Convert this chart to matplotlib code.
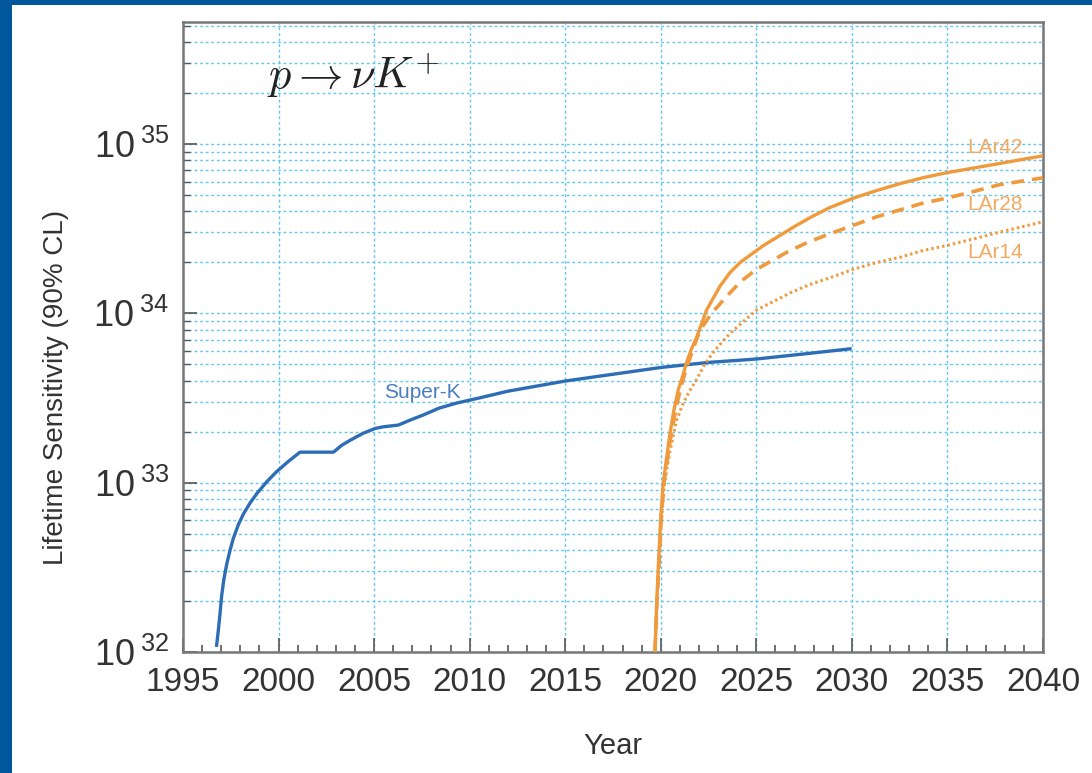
import matplotlib.pyplot as plt
import matplotlib.patches as mpatches
from matplotlib.ticker import FixedLocator, FixedFormatter, MultipleLocator, LogLocator
import numpy as np

plt.rcParams['font.family'] = ['Liberation Sans', 'DejaVu Sans']
plt.rcParams['mathtext.fontset'] = 'custom'
plt.rcParams['mathtext.rm'] = 'Liberation Sans'
plt.rcParams['mathtext.it'] = 'Liberation Sans:italic'

# Super-K sensitivity (year, log10 lifetime in years)
sk_year = [1996.76, 1996.85, 1996.94, 1997.02, 1997.14, 1997.29, 1997.46, 1997.63,
           1997.89, 1998.16, 1998.51, 1998.86, 1999.38, 1999.90, 2000.51, 2001.12,
           2002.87, 2003.3, 2003.74, 2004.4, 2005.05, 2005.5, 2006.27, 2006.9,
           2007.58, 2008.4, 2009.32, 2010.5, 2012.0, 2013.5, 2015.0, 2017.5,
           2020.0, 2022.5, 2025.0, 2027.5, 2029.9]
sk_log = [32.04, 32.13, 32.23, 32.33, 32.43, 32.52, 32.60, 32.67,
          32.75, 32.815, 32.88, 32.935, 33.005, 33.065, 33.125, 33.18,
          33.18, 33.22, 33.25, 33.29, 33.32, 33.33, 33.34, 33.37,
          33.40, 33.44, 33.47, 33.50, 33.54, 33.57, 33.60, 33.64,
          33.68, 33.71, 33.73, 33.76, 33.79]

# LAr 42 kton
lar42_year = [2019.70, 2019.79, 2019.87, 2020.0, 2020.13, 2020.31, 2020.48, 2020.69,
              2020.92, 2021.15, 2021.35, 2021.61, 2021.88, 2022.14, 2022.40, 2022.75,
              2023.10, 2023.62, 2024.15, 2024.76, 2025.37, 2026.24, 2027.11, 2027.98,
              2028.86, 2030.08, 2031.3, 2032.5, 2033.7, 2034.96, 2037.5, 2040.0]
lar42_log = [32.01, 32.30, 32.50, 32.80, 33.00, 33.15, 33.29, 33.43,
             33.55, 33.63, 33.71, 33.79, 33.86, 33.94, 34.02, 34.09,
             34.16, 34.24, 34.30, 34.35, 34.40, 34.46, 34.52, 34.575,
             34.625, 34.68, 34.725, 34.765, 34.80, 34.83, 34.88, 34.93]

# LAr 28 kton
lar28_year = [2019.70, 2019.80, 2019.90, 2020.03, 2020.17, 2020.36, 2020.55, 2020.78,
              2021.02, 2021.30, 2021.60, 2022.05, 2022.66, 2023.45, 2024.2, 2025.02,
              2025.8, 2026.59, 2027.7, 2028.86, 2030.08, 2031.3, 2032.5, 2033.7,
              2034.96, 2036.4, 2037.75, 2040.0]
lar28_log = [32.01, 32.30, 32.50, 32.80, 33.00, 33.15, 33.29, 33.43,
             33.55, 33.66, 33.76, 33.90, 34.00, 34.10, 34.19, 34.26,
             34.31, 34.36, 34.42, 34.47, 34.52, 34.57, 34.61, 34.65,
             34.68, 34.72, 34.76, 34.80]

# LAr 14 kton
lar14_year = [2019.70, 2019.80, 2019.90, 2020.05, 2020.20, 2020.45, 2020.83, 2021.18,
              2021.50, 2021.88, 2022.30, 2022.75, 2023.20, 2023.62, 2024.30, 2025.02,
              2025.90, 2026.76, 2027.80, 2028.86, 2030.08, 2031.3, 2032.5, 2033.7,
              2034.96, 2036.4, 2037.75, 2040.0]
lar14_log = [32.01, 32.30, 32.50, 32.80, 33.00, 33.17, 33.37, 33.47,
             33.54, 33.61, 33.70, 33.77, 33.83, 33.88, 33.95, 34.02,
             34.07, 34.12, 34.17, 34.21, 34.26, 34.30, 34.33, 34.37,
             34.40, 34.44, 34.48, 34.54]

decades = [32, 33, 34, 35]
year_ticks = list(range(1995, 2041, 5))

blue = '#2D6DB5'
orange = '#EF9A3C'
grid_c = '#62C6EE'

fig = plt.figure(figsize=(10.92, 7.73), dpi=100)
fig.patches.append(mpatches.Rectangle((0, 0), 12 / 1092, 1, transform=fig.transFigure,
                                      facecolor='#00579B', edgecolor='none', zorder=0))
fig.patches.append(mpatches.Rectangle((0, 1 - 5 / 773), 1, 5 / 773, transform=fig.transFigure,
                                      facecolor='#00579B', edgecolor='none', zorder=0))

ax = fig.add_axes([183 / 1092, 1 - 652 / 773, 860 / 1092, 630 / 773])
ax.set_yscale('log')

ax.plot(sk_year, 10 ** np.array(sk_log), color=blue, lw=2.4, zorder=3)
ax.plot(lar42_year, 10 ** np.array(lar42_log), color=orange, lw=2.4, zorder=3)
ax.plot(lar28_year, 10 ** np.array(lar28_log), color=orange, lw=2.6, ls=(0, (3.5, 2.2)), zorder=3)
ax.plot(lar14_year, 10 ** np.array(lar14_log), color=orange, lw=2.2, ls=(0, (0.8, 1.0)), zorder=3)

ax.set_xlim(1995, 2040)
ax.set_ylim(1e32, 10 ** 35.72)

# ticks
ax.xaxis.set_major_locator(FixedLocator(year_ticks))
ax.xaxis.set_minor_locator(MultipleLocator(1))
ax.yaxis.set_major_locator(FixedLocator([10.0 ** d for d in decades]))
ax.yaxis.set_major_formatter(FixedFormatter([r'$10^{\;%d}$' % d for d in decades]))
ax.yaxis.set_minor_locator(LogLocator(base=10, subs=np.arange(2, 10), numticks=20))
ax.yaxis.set_minor_formatter(FixedFormatter([]))
ax.tick_params(axis='x', which='major', direction='in', length=10, width=1.2,
               color='#555555', labelsize=24, pad=11)
ax.tick_params(axis='x', which='minor', direction='in', length=5, width=1.2, color='#555555')
ax.tick_params(axis='y', which='major', direction='in', length=10, width=1.2,
               color='#555555', labelsize=26, pad=10)
ax.tick_params(axis='y', which='minor', direction='in', length=5, width=1.0, color='#555555')
for lab in ax.get_xticklabels() + ax.get_yticklabels():
    lab.set_color('#333333')

ax.grid(True, axis='x', which='major', color=grid_c, ls=(0, (2, 2)), lw=1.0)
ax.grid(True, axis='y', which='both', color=grid_c, ls=(0, (2, 2)), lw=1.0)
ax.set_axisbelow(True)

for sp in ax.spines.values():
    sp.set_color('#777777')
    sp.set_linewidth(1.8)

ax.text(0.198, 0.915, r'$p \rightarrow \nu K^{+}$', transform=ax.transAxes,
        ha='center', va='center', fontsize=32, color='#222222', math_fontfamily='cm')

ax.text(2005.5, 10 ** 33.53, 'Super-K', color='#4A7EC2', fontsize=15, ha='left', va='center')
ax.text(2036.05, 10 ** 34.98, 'LAr42', color='#F2AA62', fontsize=15, ha='left', va='center')
ax.text(2036.05, 10 ** 34.64, 'LAr28', color='#F2AA62', fontsize=15, ha='left', va='center')
ax.text(2036.05, 10 ** 34.36, 'LAr14', color='#F2AA62', fontsize=15, ha='left', va='center')

fig.text(56 / 1092, 1 - 387 / 773, 'Lifetime Sensitivity (90% CL)', rotation=90,
         ha='center', va='center', fontsize=20, color='#333333')
fig.text(613 / 1092, 1 - 746 / 773, 'Year', ha='center', va='center', fontsize=21,
         color='#333333')

plt.savefig('out.png', dpi=100)
plt.close()
